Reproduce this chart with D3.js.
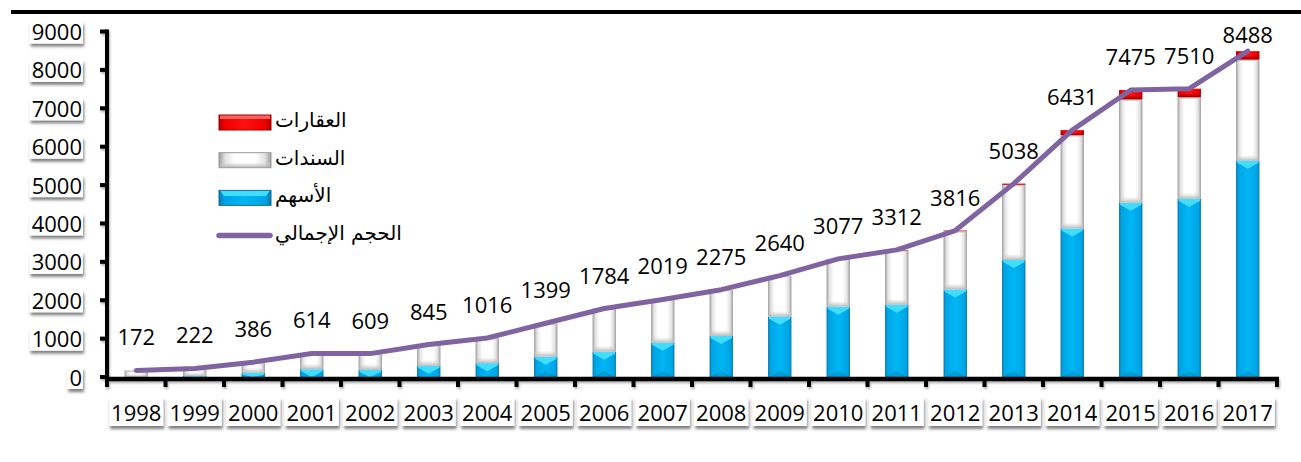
<!DOCTYPE html>
<html>
<head>
<meta charset="utf-8">
<script src="https://cdn.jsdelivr.net/npm/d3@7"></script>
<style>
  html, body { margin: 0; padding: 0; background: #fff; }
  svg { display: block; }
  .num { font-family: "Open Sans", "Noto Sans", sans-serif; font-size: 22px; fill: #000; }
  .ar  { font-family: "DejaVu Sans", sans-serif; font-size: 20px; fill: #000; }
</style>
</head>
<body>
<svg id="chart" width="1301" height="462"></svg>
<script>
// Trading volume by year, split by asset class
const years      = ["1998","1999","2000","2001","2002","2003","2004","2005","2006","2007",
                    "2008","2009","2010","2011","2012","2013","2014","2015","2016","2017"];
const stocks     = [0, 25, 110, 200, 185, 290, 360, 530, 660, 890,
                    1070, 1570, 1830, 1880, 2280, 3050, 3870, 4540, 4640, 5630];
const bonds      = [172, 197, 276, 414, 424, 555, 656, 869, 1124, 1129,
                    1205, 1070, 1247, 1422, 1521, 1958, 2431, 2695, 2650, 2643];
const realEstate = [0, 0, 0, 0, 0, 0, 0, 0, 0, 0,
                    0, 0, 0, 10, 15, 30, 130, 240, 220, 215];
const totals     = [172, 222, 386, 614, 609, 845, 1016, 1399, 1784, 2019,
                    2275, 2640, 3077, 3312, 3816, 5038, 6431, 7475, 7510, 8488];
const yTicks     = [0, 1000, 2000, 3000, 4000, 5000, 6000, 7000, 8000, 9000];

const seriesKeys   = ["stocks", "bonds", "realEstate"];
const legendItems  = [
  { key: "realEstate", label: "العقارات" },
  { key: "bonds",      label: "السندات" },
  { key: "stocks",     label: "الأسهم" },
  { key: "total",      label: "الحجم الإجمالي" }
];
const lineColor = "#8064A2";

const rows = years.map((y, i) => ({
  year: y, stocks: stocks[i], bonds: bonds[i], realEstate: realEstate[i], total: totals[i]
}));

const svg = d3.select("#chart");
const plot = { left: 107, right: 1277, top: 31.5, bottom: 377 };

const x = d3.scaleBand().domain(years).range([plot.left, plot.right])
  .paddingInner(0.6).paddingOuter(0.3);
const xCat = d3.scaleBand().domain(years).range([plot.left, plot.right]).padding(0);
const y = d3.scaleLinear().domain([0, 9000]).range([plot.bottom, plot.top]);

// ---------- defs: gradients and shadow ----------
const defs = svg.append("defs");
function hGrad(id, stops) {
  const g = defs.append("linearGradient").attr("id", id)
    .attr("x1", 0).attr("x2", 1).attr("y1", 0).attr("y2", 0);
  stops.forEach(([o, c, a]) => g.append("stop").attr("offset", o).attr("stop-color", c)
    .attr("stop-opacity", a === undefined ? 1 : a));
}
function vGrad(id, stops) {
  const g = defs.append("linearGradient").attr("id", id)
    .attr("x1", 0).attr("x2", 0).attr("y1", 0).attr("y2", 1);
  stops.forEach(([o, c, a]) => g.append("stop").attr("offset", o).attr("stop-color", c)
    .attr("stop-opacity", a === undefined ? 1 : a));
}
hGrad("blueBody",  [[0, "#0a78a8"], [0.1, "#00a4e4"], [0.5, "#00b6f4"], [0.9, "#00a4e4"], [1, "#0a78a8"]]);
hGrad("whiteBody", [[0, "#9c9c9c"], [0.12, "#e2e2e2"], [0.3, "#ffffff"], [0.7, "#ffffff"], [0.88, "#e2e2e2"], [1, "#9c9c9c"]]);
hGrad("redBody",   [[0, "#b00000"], [0.12, "#f00000"], [0.5, "#ff1010"], [0.88, "#f00000"], [1, "#b00000"]]);
vGrad("whiteFoot", [[0, "#d0d0d0", 0], [1, "#b8b8b8", 1]]);
vGrad("redFoot",   [[0, "#a00000", 0], [1, "#900000", 1]]);

const shadow = defs.append("filter").attr("id", "boxShadow")
  .attr("x", "-30%").attr("y", "-30%").attr("width", "160%").attr("height", "170%");
shadow.append("feDropShadow").attr("dx", 1).attr("dy", 3).attr("stdDeviation", 1.6)
  .attr("flood-color", "#000").attr("flood-opacity", 0.5);

const lineShadow = defs.append("filter").attr("id", "axisShadow")
  .attr("x", "-5%").attr("y", "-50%").attr("width", "110%").attr("height", "300%");
lineShadow.append("feDropShadow").attr("dx", 1).attr("dy", 2).attr("stdDeviation", 1.2)
  .attr("flood-color", "#000").attr("flood-opacity", 0.3);

// ---------- top rule ----------
svg.append("rect").attr("x", 11).attr("y", 10).attr("width", 1290).attr("height", 4).attr("fill", "#000");

// ---------- stacked bars ----------
const stack = d3.stack().keys(seriesKeys)(rows);
const bw = x.bandwidth();

function drawSegment(g, key, x0, yTop, yBot) {
  const h = yBot - yTop;
  if (h <= 0) return;
  const x1 = x0 + bw, xc = x0 + bw / 2;
  if (key === "stocks") {
    g.append("rect").attr("x", x0).attr("y", yTop).attr("width", bw).attr("height", h)
      .attr("fill", "url(#blueBody)");
    const d = Math.min(8, h);
    g.append("polygon")
      .attr("points", [[x0 + 1, yTop], [x1 - 1, yTop], [x1 - 1, yTop + Math.min(2, d)], [xc, yTop + d], [x0 + 1, yTop + Math.min(2, d)]].join(" "))
      .attr("fill", "#40ddff");
    if (h > 16) {
      g.append("polygon")
        .attr("points", [[x0 + 1, yBot], [xc, yBot - 6], [x1 - 1, yBot]].join(" "))
        .attr("fill", "#005f8a").attr("opacity", 0.25);
    }
  } else if (key === "bonds") {
    g.append("rect").attr("x", x0).attr("y", yTop).attr("width", bw).attr("height", h)
      .attr("fill", "url(#whiteBody)");
    const f = Math.min(6, h / 2);
    g.append("rect").attr("x", x0 + 1).attr("y", yBot - f).attr("width", bw - 2).attr("height", f)
      .attr("fill", "url(#whiteFoot)");
    g.append("rect").attr("x", x0 + 1).attr("y", yTop).attr("width", bw - 2).attr("height", Math.min(1.5, h))
      .attr("fill", "#c8c8c8");
  } else {
    g.append("rect").attr("x", x0).attr("y", yTop).attr("width", bw).attr("height", h)
      .attr("fill", "url(#redBody)");
    const f = Math.min(4, h / 2);
    g.append("rect").attr("x", x0 + 1).attr("y", yBot - f).attr("width", bw - 2).attr("height", f)
      .attr("fill", "url(#redFoot)");
  }
}

const barsG = svg.append("g").attr("class", "bars");
stack.forEach(layer => {
  layer.forEach(seg => {
    drawSegment(barsG, layer.key, x(seg.data.year), y(seg[1]), y(seg[0]));
  });
});

// ---------- axes ----------
const axesG = svg.append("g").attr("filter", "url(#axisShadow)");
// y axis line and ticks
axesG.append("line").attr("x1", plot.left).attr("x2", plot.left)
  .attr("y1", y(9000) - 2).attr("y2", plot.bottom + 4)
  .attr("stroke", "#000").attr("stroke-width", 4);
axesG.selectAll("line.ytick").data(yTicks).join("line").attr("class", "ytick")
  .attr("x1", plot.left - 7).attr("x2", plot.left)
  .attr("y1", d => y(d)).attr("y2", d => y(d))
  .attr("stroke", "#000").attr("stroke-width", 4);
// x axis line and category boundary ticks
axesG.append("line").attr("x1", plot.left - 2).attr("x2", plot.right + 2)
  .attr("y1", plot.bottom + 2).attr("y2", plot.bottom + 2)
  .attr("stroke", "#000").attr("stroke-width", 4.5);
const bounds = years.map(d => xCat(d)).concat([xCat(years[years.length - 1]) + xCat.bandwidth()]);
axesG.selectAll("line.xtick").data(bounds).join("line").attr("class", "xtick")
  .attr("x1", d => d).attr("x2", d => d)
  .attr("y1", plot.bottom + 2).attr("y2", plot.bottom + 10)
  .attr("stroke", "#000").attr("stroke-width", 4);

// y tick labels in shadowed boxes
const yLab = svg.append("g").selectAll("g").data(yTicks).join("g");
yLab.each(function (d) {
  const g = d3.select(this);
  const t = g.append("text").attr("class", "num").attr("text-anchor", "end")
    .attr("x", 82).attr("y", y(d) + 8.5).text(d);
  const w = t.node().getComputedTextLength();
  g.insert("rect", "text").attr("x", 82 - w - 2).attr("y", y(d) - 10)
    .attr("width", w + 3).attr("height", 22).attr("fill", "#fff")
    .attr("filter", "url(#boxShadow)");
});

// x tick labels in shadowed boxes
const xLab = svg.append("g").selectAll("g").data(years).join("g");
xLab.each(function (d) {
  const g = d3.select(this);
  const cx = xCat(d) + xCat.bandwidth() / 2;
  g.append("rect").attr("x", cx - 27).attr("y", 397).attr("width", 54).attr("height", 29)
    .attr("fill", "#fff").attr("filter", "url(#boxShadow)");
  g.append("text").attr("class", "num").attr("text-anchor", "middle")
    .attr("x", cx).attr("y", 421).text(d);
});

// ---------- total line ----------
const cxOf = d => x(d.year) + bw / 2;
svg.append("path").datum(rows)
  .attr("d", d3.line().x(cxOf).y(d => y(d.total)))
  .attr("fill", "none").attr("stroke", lineColor).attr("stroke-width", 5)
  .attr("stroke-linejoin", "round").attr("stroke-linecap", "round");

// value labels above each point, kept inside the plot area
svg.append("g").selectAll("text").data(rows).join("text")
  .attr("class", "num").attr("text-anchor", "middle")
  .attr("x", cxOf)
  .attr("y", d => Math.max(y(d.total) - 25, 43))
  .text(d => d.total);

// ---------- legend ----------
const legend = svg.append("g").attr("class", "legend");
legendItems.forEach((item, i) => {
  const cy = 122.5 + i * 37.7;
  const g = legend.append("g");
  if (item.key === "total") {
    g.append("line").attr("x1", 219).attr("x2", 270).attr("y1", cy).attr("y2", cy)
      .attr("stroke", lineColor).attr("stroke-width", 5.5).attr("stroke-linecap", "round");
  } else {
    const fills = { realEstate: "url(#redBody)", bonds: "url(#whiteBody)", stocks: "url(#blueBody)" };
    g.append("rect").attr("x", 219).attr("y", cy - 7.5).attr("width", 52).attr("height", 15)
      .attr("fill", fills[item.key]);
    if (item.key === "stocks") {
      g.append("polygon")
        .attr("points", [[220, cy - 7.5], [270, cy - 7.5], [266, cy - 2], [224, cy - 2]].join(" "))
        .attr("fill", "#40ddff");
      g.append("rect").attr("x", 219).attr("y", cy - 7.5).attr("width", 52).attr("height", 15)
        .attr("fill", "none").attr("stroke", "#1b6f96").attr("stroke-width", 1);
    } else if (item.key === "realEstate") {
      g.append("rect").attr("x", 220).attr("y", cy - 7.5).attr("width", 50).attr("height", 4)
        .attr("fill", "#ff6060");
      g.append("rect").attr("x", 219).attr("y", cy - 7.5).attr("width", 52).attr("height", 15)
        .attr("fill", "none").attr("stroke", "#a00000").attr("stroke-width", 1);
    } else {
      g.append("rect").attr("x", 220).attr("y", cy + 2).attr("width", 50).attr("height", 5)
        .attr("fill", "url(#whiteFoot)");
      g.append("rect").attr("x", 219).attr("y", cy - 7.5).attr("width", 52).attr("height", 15)
        .attr("fill", "none").attr("stroke", "#9a9a9a").attr("stroke-width", 1);
    }
  }
  g.append("text").attr("class", "ar").attr("x", 275).attr("y", cy + 4.5).text(item.label);
});
</script>
</body>
</html>
